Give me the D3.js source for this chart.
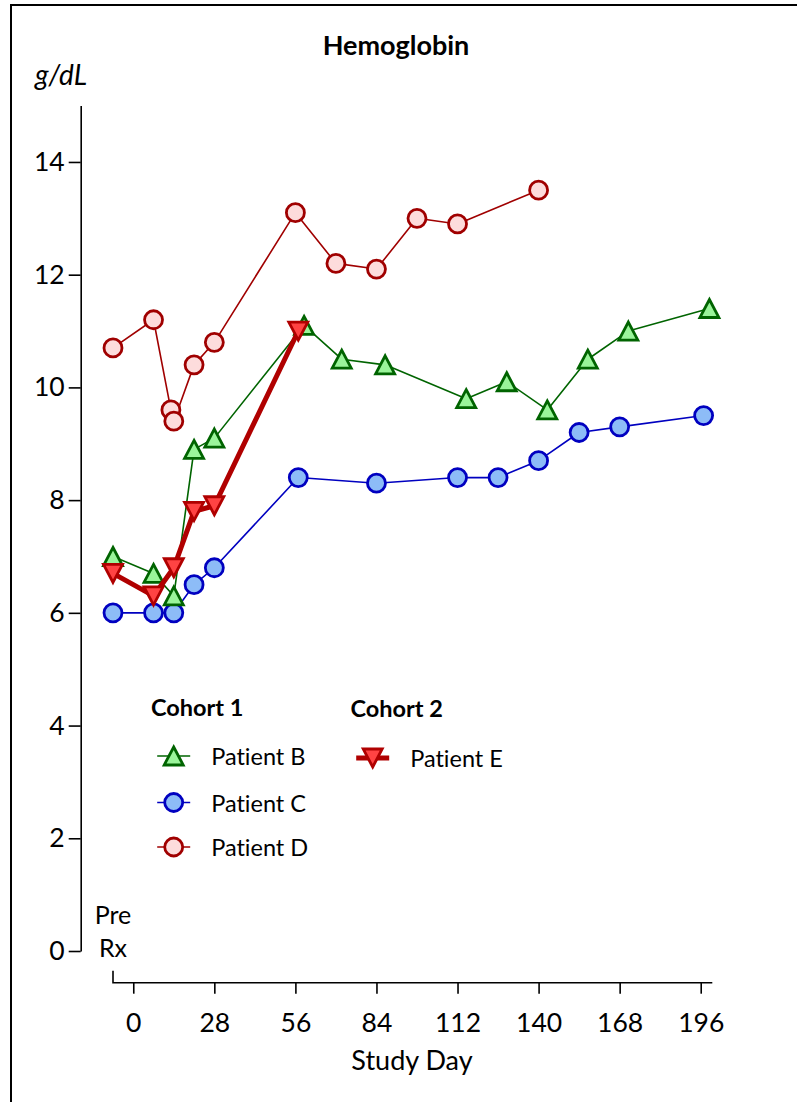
<!DOCTYPE html>
<html>
<head>
<meta charset="utf-8">
<script src="https://cdn.jsdelivr.net/npm/d3@7"></script>
<style>
  html, body { margin: 0; padding: 0; background: #fff; }
  svg { display: block; font-family: Lato, "Open Sans", sans-serif; font-variant-ligatures: none; font-feature-settings: "liga" 0, "dlig" 0; }
</style>
</head>
<body>
<svg id="chart" width="797" height="1102"></svg>
<script>
// Hemoglobin (g/dL) by study day for each patient
const daysB = [-7, 7, 14, 21, 28, 59, 72, 87, 115, 129, 143, 157, 171, 199];
const hgbB  = [7.0, 6.7, 6.3, 8.9, 9.1, 11.1, 10.5, 10.4, 9.8, 10.1, 9.6, 10.5, 11.0, 11.4];

const daysC = [-7, 7, 14, 21, 28, 57, 84, 112, 126, 140, 154, 168, 197];
const hgbC  = [6.0, 6.0, 6.0, 6.5, 6.8, 8.4, 8.3, 8.4, 8.4, 8.7, 9.2, 9.3, 9.5];

const daysD = [-7, 7, 13, 14, 21, 28, 56, 70, 84, 98, 112, 140];
const hgbD  = [10.7, 11.2, 9.6, 9.4, 10.4, 10.8, 13.1, 12.2, 12.1, 13.0, 12.9, 13.5];

const daysE = [-7, 7, 14, 21, 28, 57];
const hgbE  = [6.7, 6.3, 6.8, 7.8, 7.9, 11.0];

const xTicks = [0, 28, 56, 84, 112, 140, 168, 196];
const yTicks = [0, 2, 4, 6, 8, 10, 12, 14];

const preRxDay = -7;

const series = [
  { name: "Patient C", days: daysC, vals: hgbC, shape: "circle", fill: "#8dbcf7", stroke: "#0000c0", lw: 1.6 },
  { name: "Patient D", days: daysD, vals: hgbD, shape: "circle", fill: "#fddcdc", stroke: "#a00000", lw: 1.6 },
  { name: "Patient B", days: daysB, vals: hgbB, shape: "up",     fill: "#9af59a", stroke: "#006400", lw: 1.6 },
  { name: "Patient E", days: daysE, vals: hgbE, shape: "down",   fill: "#ff4343", stroke: "#b00000", lw: 5 }
];

const svg = d3.select("#chart");

// outer frame
svg.append("rect")
  .attr("x", 11).attr("y", 5)
  .attr("width", 800).attr("height", 1110)
  .attr("fill", "none").attr("stroke", "#000").attr("stroke-width", 2);

const x = d3.scaleLinear().domain([preRxDay, 200]).range([113, 712.3]);
const y = d3.scaleLinear().domain([0, 15]).range([951, 105.6]);

// title and unit
svg.append("text").attr("x", 396).attr("y", 55)
  .attr("text-anchor", "middle").attr("font-weight", "bold")
  .attr("font-size", 27).text("Hemoglobin");
svg.append("text").attr("x", 35).attr("y", 85)
  .attr("font-style", "italic").attr("font-size", 28).text("g/dL");

// y axis
const yAxis = svg.append("g")
  .attr("transform", "translate(80.7,0)")
  .call(d3.axisLeft(y).tickValues(yTicks).tickSize(12).tickSizeOuter(0).tickPadding(4));
yAxis.selectAll("text").attr("font-size", 26.5).attr("font-family", "Lato, sans-serif").attr("fill", "#000");
yAxis.selectAll("line,path").attr("stroke", "#000").attr("stroke-width", 1.6);

// x axis with a raised stub at the pre-treatment end
const xAxis = svg.append("g")
  .attr("transform", "translate(0,982.7)")
  .call(d3.axisBottom(x).tickValues(xTicks).tickSize(11).tickSizeOuter(0).tickPadding(19));
xAxis.select(".domain")
  .attr("d", `M${x(preRxDay)},-12V0H${x(200)}`);
xAxis.selectAll("text").attr("font-size", 26.5).attr("font-family", "Lato, sans-serif").attr("fill", "#000");
xAxis.selectAll("line,path").attr("stroke", "#000").attr("stroke-width", 1.6);

// pre-treatment label
svg.append("text").attr("x", x(preRxDay)).attr("y", 924)
  .attr("text-anchor", "middle").attr("font-size", 25).text("Pre");
svg.append("text").attr("x", x(preRxDay)).attr("y", 957)
  .attr("text-anchor", "middle").attr("font-size", 25).text("Rx");

svg.append("text").attr("x", 412).attr("y", 1070)
  .attr("text-anchor", "middle").attr("font-size", 27).text("Study Day");

// marker shapes
function trianglePath(dir) {
  const hw = 9.5, hh = 9;
  return dir === "up"
    ? `M0,${-hh}L${hw},${hh}L${-hw},${hh}Z`
    : `M0,${hh}L${hw},${-hh}L${-hw},${-hh}Z`;
}
function drawMarker(g, s, cx, cy) {
  if (s.shape === "circle") {
    g.append("circle").attr("cx", cx).attr("cy", cy).attr("r", 9)
      .attr("fill", s.fill).attr("stroke", s.stroke).attr("stroke-width", 2.8);
  } else {
    g.append("path").attr("d", trianglePath(s.shape))
      .attr("transform", `translate(${cx},${cy})`)
      .attr("fill", s.fill).attr("stroke", s.stroke).attr("stroke-width", 2.8)
      .attr("stroke-linejoin", "miter");
  }
}

const line = d3.line().x(d => x(d[0])).y(d => y(d[1]));

series.forEach(s => {
  const pts = s.days.map((d, i) => [d, s.vals[i]]);
  const g = svg.append("g");
  g.append("path").datum(pts).attr("d", line)
    .attr("fill", "none").attr("stroke", s.stroke).attr("stroke-width", s.lw)
    .attr("stroke-linejoin", "round");
  pts.forEach(p => drawMarker(g, s, x(p[0]), y(p[1])));
});

// legend
const byName = Object.fromEntries(series.map(s => [s.name, s]));
const legendGroups = [
  { title: "Cohort 1", tx: 151, ty: 716, items: ["Patient B", "Patient C", "Patient D"], mx: 173.7, ys: [756, 802.5, 847] },
  { title: "Cohort 2", tx: 350.5, ty: 717, items: ["Patient E"], mx: 372.7, ys: [758] }
];
legendGroups.forEach(lg => {
  svg.append("text").attr("x", lg.tx).attr("y", lg.ty)
    .attr("font-weight", "bold").attr("font-size", 23.5).text(lg.title);
  lg.items.forEach((name, i) => {
    const s = byName[name];
    const g = svg.append("g");
    const yy = lg.ys[i];
    g.append("line").attr("x1", lg.mx - 16.5).attr("x2", lg.mx + 16.5)
      .attr("y1", yy).attr("y2", yy)
      .attr("stroke", s.stroke).attr("stroke-width", s.lw);
    drawMarker(g, s, lg.mx, yy);
    svg.append("text").attr("x", lg.mx + 37.5).attr("y", yy + 9)
      .attr("font-size", 23.5).text(name);
  });
});
</script>
</body>
</html>
